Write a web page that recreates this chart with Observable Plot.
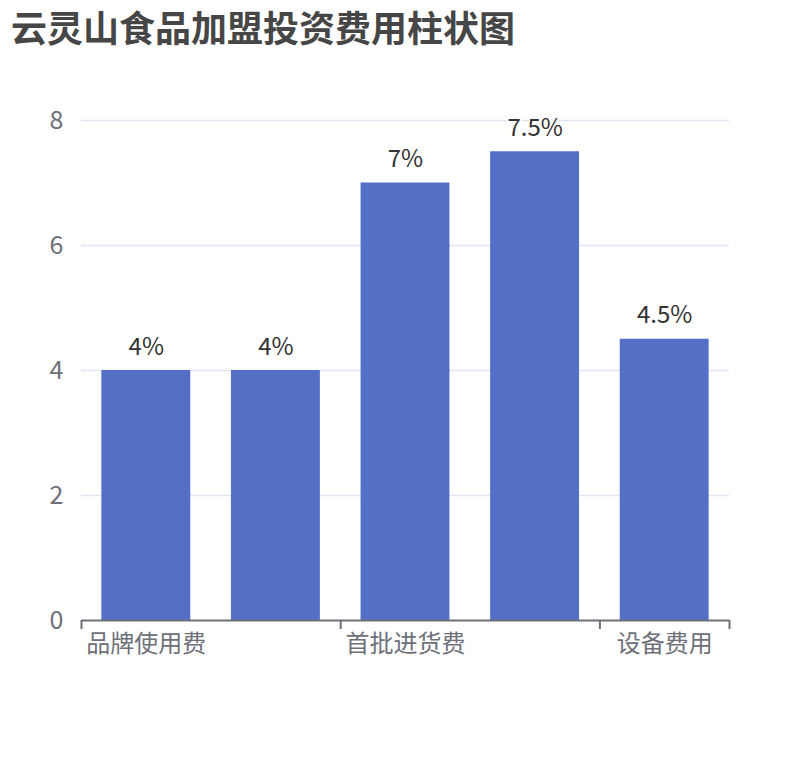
<!DOCTYPE html>
<html>
<head>
<meta charset="utf-8">
<script src="https://cdn.jsdelivr.net/npm/d3@7"></script>
<script src="https://cdn.jsdelivr.net/npm/@observablehq/plot@0.6"></script>
<style>
  body { margin: 0; background: #fff; font-family: "Noto Sans CJK SC", "Noto Sans", sans-serif; }
  #title { height: 50px; line-height: 53px; padding-left: 11px; font-size: 36px; font-weight: bold; color: #464646; white-space: nowrap; }
</style>
</head>
<body>
<div id="title">云灵山食品加盟投资费用柱状图</div>
<div id="chart"></div>
<script>
const categories = ["品牌使用费", "加盟费", "首批进货费", "装修费用", "设备费用"];
const values = [4, 4, 7, 7.5, 4.5];
const yTicks = [0, 2, 4, 6, 8];
const labelInterval = 2;

const data = categories.map((c, i) => ({i, category: c, value: values[i]}));
const n = categories.length;
const gap = 0.157;
const shownLabels = data.filter(d => d.i % labelInterval === 0);
const boundaryTicks = [...shownLabels.map(d => d.i), n];

const chart = Plot.plot({
  width: 810,
  height: 710,
  marginLeft: 81,
  marginRight: 81,
  marginTop: 70,
  marginBottom: 140,
  style: {fontFamily: '"Noto Sans CJK SC", "Noto Sans", sans-serif', color: "#6E7079", background: "#fff"},
  x: {type: "linear", domain: [0, n]},
  y: {domain: [0, 8]},
  marks: [
    Plot.gridY(yTicks.filter(t => t > 0), {stroke: "#E0E6F1", strokeOpacity: 1, strokeWidth: 1.5}),
    Plot.rect(data, {x1: d => d.i + gap, x2: d => d.i + 1 - gap, y1: 0, y2: "value", fill: "#5470C6"}),
    Plot.ruleY([0], {stroke: "#6E7079", strokeWidth: 2}),
    Plot.axisY({ticks: yTicks, tickSize: 0, tickPadding: 18, fontSize: 25, fill: "#6E7079", label: null}),
    Plot.axisX({ticks: boundaryTicks, tickSize: 9, tickFormat: () => "", stroke: "#6E7079", strokeWidth: 2, label: null}),
    Plot.axisX({ticks: shownLabels.map(d => d.i + 0.5), tickSize: 0, tickPadding: 14, fontSize: 24, fill: "#6E7079",
      tickFormat: v => categories[Math.round(v - 0.5)], label: null}),
    Plot.text(data, {x: d => d.i + 0.5, y: "value", text: d => d.value + "%", dy: -16, lineAnchor: "bottom",
      fontSize: 24, fill: "#333", stroke: "white", strokeWidth: 4})
  ]
});
document.getElementById("chart").appendChild(chart);
</script>
</body>
</html>
